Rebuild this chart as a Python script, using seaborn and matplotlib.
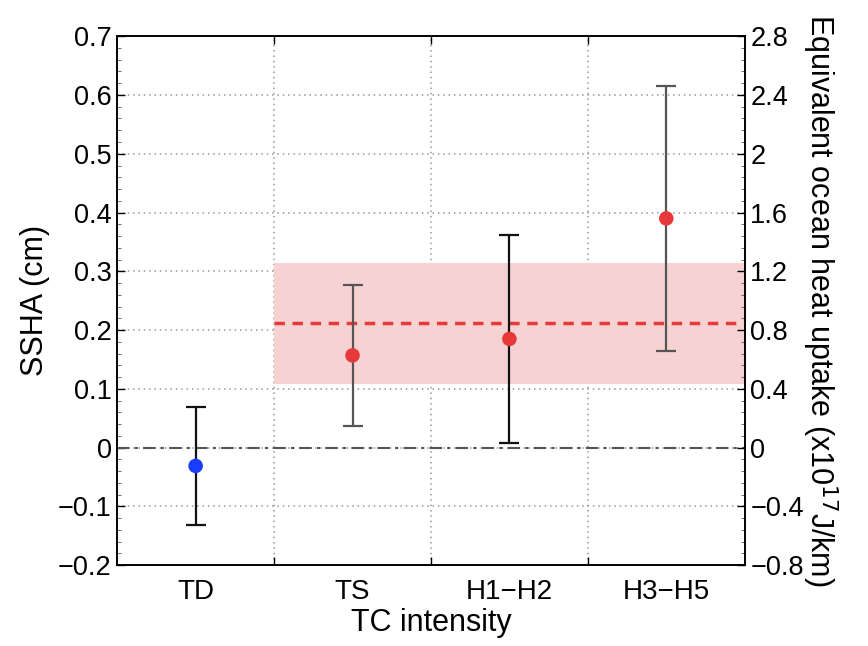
import numpy as np
import pandas as pd
import matplotlib
matplotlib.use("Agg")
import matplotlib.pyplot as plt
import seaborn as sns
from matplotlib.ticker import MultipleLocator, FixedLocator

sns.set_theme(style="white")
plt.rcParams['font.family'] = ['Liberation Sans', 'DejaVu Sans']
plt.rcParams['text.color'] = 'black'
plt.rcParams['axes.labelcolor'] = 'black'
plt.rcParams['xtick.color'] = 'black'
plt.rcParams['ytick.color'] = 'black'

# ---- data ----
categories = ["TD", "TS", "H1\u2212H2", "H3\u2212H5"]
ssha_mean = [-0.031, 0.157, 0.185, 0.390]
ssha_err = [0.101, 0.120, 0.177, 0.225]
point_group = ["weak", "strong", "strong", "strong"]
bar_colors = ["#111111", "#555555", "#111111", "#555555"]
band_low = 0.109
band_high = 0.314
band_mean = 0.212
left_ticks = [-0.2, -0.1, 0, 0.1, 0.2, 0.3, 0.4, 0.5, 0.6, 0.7]
left_ticklabels = ["\u22120.2", "\u22120.1", "0", "0.1", "0.2", "0.3", "0.4", "0.5", "0.6", "0.7"]
right_ticks = [-0.8, -0.4, 0, 0.4, 0.8, 1.2, 1.6, 2.0, 2.4, 2.8]
right_ticklabels = ["\u22120.8", "\u22120.4", "0", "0.4", "0.8", "1.2", "1.6", "2", "2.4", "2.8"]

x = np.arange(1, len(categories) + 1)
df = pd.DataFrame({"x": x, "ssha": ssha_mean, "err": ssha_err, "group": point_group})

fig = plt.figure(figsize=(8.68, 6.46), dpi=100)
ax = fig.add_axes([0.135, 0.125, 0.723, 0.819])

# shaded band and mean line
ax.fill_between([1.5, 4.5], band_low, band_high, color="#f6d2d2", lw=0, zorder=1)
ax.plot([1.5, 4.5], [band_mean, band_mean], ls=(0, (3, 2.2)), color="#e8393a", lw=2.5, zorder=3)
ax.plot([0.5, 4.5], [0, 0], ls=(0, (6, 2.5, 1.5, 2.5)), color="#555555", lw=1.5, zorder=2)

# error bars
for xi, m, e, c in zip(x, ssha_mean, ssha_err, bar_colors):
    ax.errorbar(xi, m, yerr=e, fmt="none", ecolor=c, elinewidth=1.6, capsize=7, capthick=1.6, zorder=4)

sns.scatterplot(data=df, x="x", y="ssha", hue="group",
                palette={"weak": "#1a3cff", "strong": "#e8393a"},
                s=110, edgecolor="none", legend=False, zorder=5, ax=ax)

ax.set_xlim(0.5, 4.5)
ax.set_ylim(-0.2, 0.7)
ax.set_xticks(x)
ax.set_xticklabels(categories, fontsize=20)
ax.xaxis.set_minor_locator(FixedLocator([1.5, 2.5, 3.5]))
ax.set_yticks(left_ticks)
ax.set_yticklabels(left_ticklabels, fontsize=19.5)
ax.yaxis.set_minor_locator(MultipleLocator(0.02))
ax.tick_params(axis="x", which="major", length=0, pad=10)
ax.tick_params(axis="x", which="minor", direction="in", length=6, top=True, bottom=True, width=1.0, color="black")
ax.tick_params(axis="y", which="major", direction="in", length=6, left=True, width=1.0, color="black", pad=4)
ax.tick_params(axis="y", which="minor", direction="in", length=3, left=True, width=0.6, color="#555555")
ax.grid(False)
ax.grid(axis="y", which="major", ls=(0, (1, 2.5)), color="#999999", lw=1.1)
ax.grid(axis="x", which="minor", ls=(0, (1, 2.5)), color="#999999", lw=1.1)
for s in ax.spines.values():
    s.set_color("black")
    s.set_linewidth(1.2)
ax.set_xlabel("TC intensity", fontsize=22, labelpad=2)
ax.set_ylabel("SSHA (cm)", fontsize=22, labelpad=6)

ax2 = ax.twinx()
ax2.set_ylim(-0.8, 2.8)
ax2.set_yticks(right_ticks)
ax2.set_yticklabels(right_ticklabels, fontsize=19.5)
ax2.yaxis.set_minor_locator(MultipleLocator(0.08))
ax2.tick_params(axis="y", which="major", direction="in", length=6, right=True, width=1.0, color="black", pad=4)
ax2.tick_params(axis="y", which="minor", direction="in", length=3, right=True, width=0.6, color="#555555")
ax2.grid(False)
for s in ax2.spines.values():
    s.set_color("black")
    s.set_linewidth(1.2)
ax2.set_ylabel("Equivalent ocean heat uptake (x10$^{17}$J/km)", fontsize=22, rotation=270, labelpad=26)

fig.savefig("out.png", dpi=100)
